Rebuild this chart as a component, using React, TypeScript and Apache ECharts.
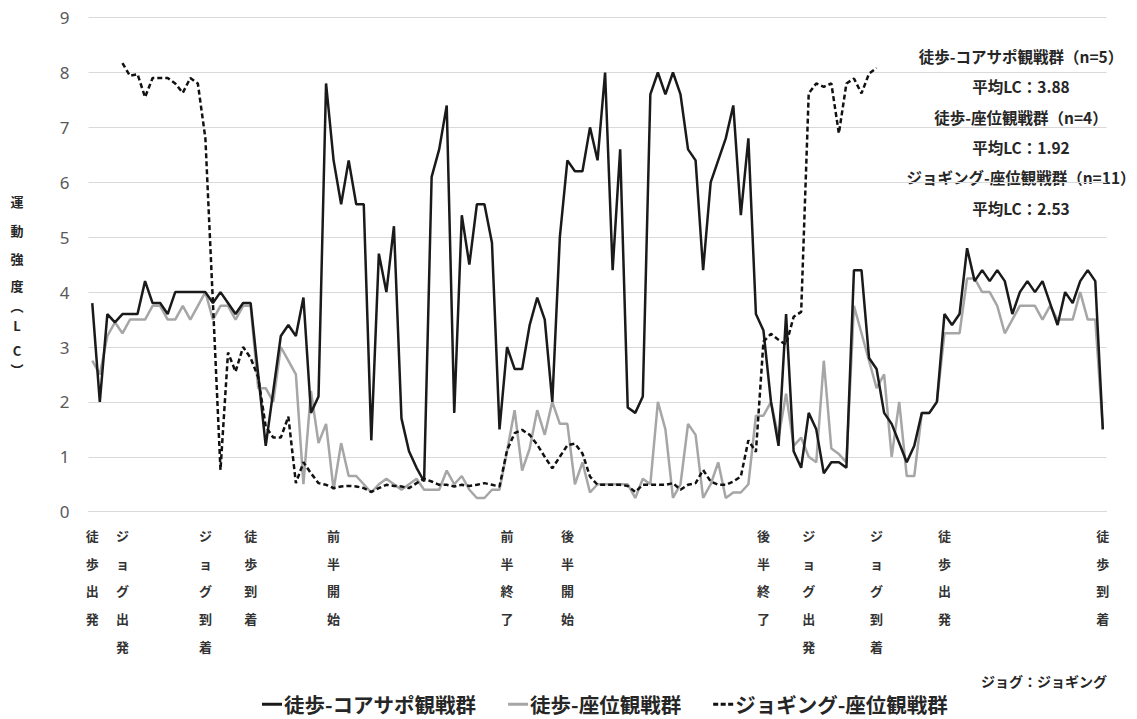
import React, { useEffect, useRef } from 'react';
import * as echarts from 'echarts';

const FONT = '"Noto Sans CJK JP", "Noto Sans", sans-serif';

// time points (categories)
const N_POINTS = 135;
const CATEGORIES: string[] = Array.from({ length: N_POINTS }, (_, i) => String(i + 1));

// event labels under the axis: [time-point index, label]
const EVENT_INDEX = [0, 4, 15, 21, 32, 55, 63, 89, 95, 104, 113, 134];
const EVENT_LABEL = ['徒歩出発', 'ジョグ出発', 'ジョグ到着', '徒歩到着', '前半開始', '前半終了', '後半開始', '後半終了', 'ジョグ出発', 'ジョグ到着', '徒歩出発', '徒歩到着'];

const SERIES_NAMES = ['徒歩-コアサポ観戦群', '徒歩-座位観戦群', 'ジョギング-座位観戦群'];
const SERIES_COLORS = ['#1a1a1a', '#a6a6a6', '#111111'];

const WALK_CORE = [
  3.8, 2.0, 3.6, 3.45, 3.6, 3.6, 3.6, 4.2, 3.8, 3.8,
  3.6, 4.0, 4.0, 4.0, 4.0, 4.0, 3.8, 4.0, 3.8, 3.6,
  3.8, 3.8, 2.5, 1.2, 2.2, 3.2, 3.4, 3.2, 3.9, 1.8,
  2.1, 7.8, 6.4, 5.6, 6.4, 5.6, 5.6, 1.3, 4.7, 4.0,
  5.2, 1.7, 1.1, 0.8, 0.55, 6.1, 6.6, 7.4, 1.8, 5.4,
  4.5, 5.6, 5.6, 4.9, 1.5, 3.0, 2.6, 2.6, 3.4, 3.9,
  3.5, 2.0, 5.0, 6.4, 6.2, 6.2, 7.0, 6.4, 8.0, 4.4,
  6.6, 1.9, 1.8, 2.1, 7.6, 8.0, 7.6, 8.0, 7.6, 6.6,
  6.4, 4.4, 6.0, 6.4, 6.8, 7.4, 5.4, 6.8, 3.6, 3.3,
  2.0, 1.2, 3.6, 1.1, 0.8, 1.8, 1.5, 0.7, 0.9, 0.9,
  0.8, 4.4, 4.4, 2.8, 2.6, 1.8, 1.6, 1.25, 0.9, 1.2,
  1.8, 1.8, 2.0, 3.6, 3.4, 3.6, 4.8, 4.2, 4.4, 4.2,
  4.4, 4.2, 3.6, 4.0, 4.2, 4.0, 4.2, 3.8, 3.4, 4.0,
  3.8, 4.2, 4.4, 4.2, 1.5,
];

const WALK_SEAT = [
  2.75, 2.5, 3.2, 3.45, 3.25, 3.5, 3.5, 3.5, 3.75, 3.75,
  3.5, 3.5, 3.75, 3.5, 3.75, 4.0, 3.5, 3.75, 3.75, 3.5,
  3.75, 3.75, 2.25, 2.25, 2.0, 3.0, 2.75, 2.5, 0.5, 2.2,
  1.25, 1.6, 0.4, 1.25, 0.65, 0.65, 0.5, 0.35, 0.5, 0.6,
  0.5, 0.4, 0.5, 0.6, 0.4, 0.4, 0.4, 0.75, 0.5, 0.65,
  0.4, 0.25, 0.25, 0.4, 0.4, 1.1, 1.85, 0.75, 1.15, 1.85,
  1.4, 2.0, 1.6, 1.6, 0.5, 0.9, 0.35, 0.5, 0.5, 0.5,
  0.5, 0.5, 0.25, 0.6, 0.5, 2.0, 1.5, 0.25, 0.5, 1.6,
  1.4, 0.25, 0.5, 0.9, 0.25, 0.35, 0.35, 0.5, 1.75, 1.75,
  2.0, 1.35, 2.15, 1.2, 1.35, 1.0, 0.9, 2.75, 1.15, 1.05,
  0.9, 3.75, 3.25, 2.75, 2.25, 2.5, 1.0, 2.0, 0.65, 0.65,
  1.8, 1.8, 2.0, 3.25, 3.25, 3.25, 4.25, 4.25, 4.0, 4.0,
  3.75, 3.25, 3.5, 3.75, 3.75, 3.75, 3.5, 3.75, 3.5, 3.5,
  3.5, 4.0, 3.5, 3.5, 1.5,
];

const JOG_SEAT: (number | null)[] = [
  null, null, null, null, 8.17, 7.94, 7.97, 7.55, 7.9, 7.9,
  7.9, 7.8, 7.63, 7.9, 7.8, 6.8, 3.8, 0.76, 2.9, 2.55,
  3.0, 2.8, 2.45, 1.55, 1.35, 1.35, 1.73, 0.52, 0.9, 0.7,
  0.52, 0.49, 0.43, 0.46, 0.47, 0.46, 0.43, 0.36, 0.43, 0.49,
  0.47, 0.46, 0.43, 0.52, 0.6, 0.55, 0.49, 0.49, 0.46, 0.49,
  0.47, 0.49, 0.52, 0.49, 0.46, 1.12, 1.43, 1.49, 1.4, 1.22,
  1.0, 0.79, 1.0, 1.21, 1.24, 1.06, 0.64, 0.49, 0.49, 0.49,
  0.49, 0.47, 0.36, 0.49, 0.49, 0.49, 0.49, 0.52, 0.4, 0.49,
  0.52, 0.76, 0.55, 0.49, 0.49, 0.55, 0.64, 1.3, 1.09, 3.1,
  3.24, 3.13, 3.04, 3.55, 3.64, 7.62, 7.8, 7.74, 7.8, 6.89,
  7.8, 7.89, 7.62, 7.98, 8.08, null, null, null, null, null,
  null, null, null, null, null, null, null, null, null, null,
  null, null, null, null, null, null, null, null, null, null,
  null, null, null, null, null,
];

const Y_TICKS = [0, 1, 2, 3, 4, 5, 6, 7, 8, 9];
const Y_NAME_CHARS = ['運', '動', '強', '度', '︵', 'L', 'C', '︶'];
const Y_NAME_OFFSETS = [0, 29, 57, 84, 104, 124, 149, 168];

const NOTE_LINES = [
  '徒歩-コアサポ観戦群（n=5）',
  '平均LC：3.88',
  '徒歩-座位観戦群（n=4）',
  '平均LC：1.92',
  'ジョギング-座位観戦群（n=11）',
  '平均LC：2.53',
];
const FOOTNOTE = 'ジョグ：ジョギング';

const SOLID_ICON = 'path://M0,0h20v3h-20z';
const DASH_ICON = 'path://M0,0h5v3h-5z M7.5,0h5v3h-5z M15,0h5v3h-5z';

export default function App() {
  const ref = useRef<HTMLDivElement>(null);
  useEffect(() => {
    if (!ref.current) return;
    const chart = echarts.init(ref.current, null, { renderer: 'svg' });
    const labelMap: Record<number, string> = {};
    EVENT_INDEX.forEach((idx, k) => { labelMap[idx] = EVENT_LABEL[k]; });

    const graphics: any[] = [];
    NOTE_LINES.forEach((t, i) => {
      graphics.push({
        type: 'text', x: 1021, y: 56 + i * 30.3,
        style: { text: t, align: 'center', verticalAlign: 'middle', fontSize: 15.5, fontWeight: 'bold', fontFamily: FONT, fill: '#262626' },
      });
    });
    graphics.push({
      type: 'text', x: 1107, y: 681,
      style: { text: FOOTNOTE, align: 'right', verticalAlign: 'middle', fontSize: 14, fontWeight: 'bold', fontFamily: FONT, fill: '#262626' },
    });
    Y_NAME_CHARS.forEach((c, i) => {
      graphics.push({
        type: 'text', x: 17, y: 201 + Y_NAME_OFFSETS[i],
        style: { text: c, align: 'center', verticalAlign: 'middle', fontSize: 13, fontWeight: 'bold', fontFamily: FONT, fill: '#262626' },
      });
    });

    chart.setOption({
      animation: false,
      backgroundColor: '#ffffff',
      grid: { left: 88.5, right: 30.4, top: 17.6, bottom: 207.3, containLabel: false },
      xAxis: {
        type: 'category',
        data: CATEGORIES,
        boundaryGap: true,
        axisLine: { show: true, lineStyle: { color: '#d9d9d9', width: 1 } },
        axisTick: { show: false },
        axisLabel: {
          interval: 0,
          margin: 10,
          fontSize: 13,
          fontWeight: 'bold',
          fontFamily: FONT,
          color: '#333333',
          lineHeight: 27.7,
          verticalAlign: 'top',
          formatter: (_v: string, idx: number) => (labelMap[idx] ? labelMap[idx].split('').join('\n') : ''),
        },
      },
      yAxis: {
        type: 'value',
        min: Y_TICKS[0],
        max: Y_TICKS[Y_TICKS.length - 1],
        interval: 1,
        axisLine: { show: false },
        axisTick: { show: false },
        splitLine: { show: true, lineStyle: { color: '#d9d9d9', width: 1 } },
        axisLabel: { margin: 19, fontSize: 17, color: '#595959', fontFamily: '"Noto Sans", sans-serif' },
      },
      legend: {
        left: 262,
        top: 694,
        padding: 0,
        itemWidth: 20,
        itemHeight: 3,
        itemGap: 32,
        data: [
          { name: SERIES_NAMES[0], icon: SOLID_ICON, itemStyle: { color: SERIES_COLORS[0] } },
          { name: SERIES_NAMES[1], icon: SOLID_ICON, itemStyle: { color: SERIES_COLORS[1] } },
          { name: SERIES_NAMES[2], icon: DASH_ICON, itemStyle: { color: SERIES_COLORS[2] } },
        ],
        textStyle: { fontSize: 20.5, fontWeight: 'bold', color: '#262626', fontFamily: FONT, padding: [0, 0, 0, -3] },
      },
      graphic: graphics,
      series: [
        {
          name: SERIES_NAMES[1], type: 'line', data: WALK_SEAT, symbol: 'none', z: 2,
          itemStyle: { color: SERIES_COLORS[1] }, lineStyle: { color: SERIES_COLORS[1], width: 2.5 },
        },
        {
          name: SERIES_NAMES[0], type: 'line', data: WALK_CORE, symbol: 'none', z: 3,
          itemStyle: { color: SERIES_COLORS[0] }, lineStyle: { color: SERIES_COLORS[0], width: 2.5 },
        },
        {
          name: SERIES_NAMES[2], type: 'line', data: JOG_SEAT, symbol: 'none', z: 4, connectNulls: false,
          itemStyle: { color: SERIES_COLORS[2] }, lineStyle: { color: SERIES_COLORS[2], width: 2.5, type: [5, 3] },
        },
      ],
    });
    return () => chart.dispose();
  }, []);
  return <div ref={ref} style={{ position: 'fixed', left: 0, top: 0, width: 1137, height: 719, background: '#fff' }} />;
}
